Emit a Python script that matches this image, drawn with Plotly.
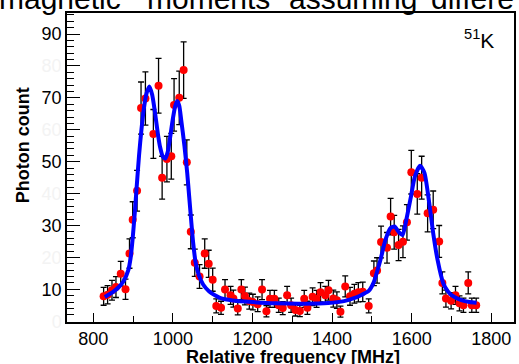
import numpy as np
import plotly.graph_objects as go

# Measured spectrum (relative frequency in MHz, photon counts)
freq = [826, 836, 847, 857, 869, 881, 891, 899, 910, 920, 931, 951, 964, 973, 985,
        996, 1003, 1016, 1027, 1035, 1045, 1055, 1067, 1080, 1090, 1100, 1109, 1121,
        1131, 1145, 1152, 1163, 1172, 1181, 1192, 1201, 1213, 1224, 1235, 1244, 1255,
        1266, 1276, 1287, 1297, 1308, 1319, 1330, 1338, 1351, 1361, 1371, 1383, 1391,
        1403, 1412, 1421, 1433, 1445, 1456, 1466, 1477, 1492, 1505, 1513, 1523, 1538,
        1547, 1556, 1567, 1578, 1588, 1599, 1614, 1625, 1640, 1654, 1669, 1677, 1686,
        1699, 1710, 1720, 1730, 1742, 1751, 1762]
counts = [7.8, 8.3, 9.7, 10.7, 14.9, 10.0, 21.2, 31.8, 40.9, 66.8, 69.8, 58.7, 73.8, 45.0, 50.8,
          51.7, 67.8, 70.0, 78.7, 49.8, 28.0, 18.3, 14.0, 21.2, 18.0, 13.0, 4.8, 4.2,
          9.9, 8.1, 7.1, 4.0, 9.9, 7.9, 6.3, 6.0, 5.3, 9.9, 3.1, 7.0, 7.0,
          5.0, 4.1, 8.1, 5.0, 3.5, 3.2, 7.0, 4.2, 7.7, 7.0, 9.1, 8.1, 9.7,
          7.1, 6.6, 3.0, 10.9, 7.8, 8.6, 9.1, 9.2, 4.8, 15.0, 15.9, 24.8, 23.0,
          32.8, 27.9, 23.9, 24.9, 31.0, 46.7, 39.9, 45.0, 33.8, 34.9, 25.0, 12.0, 7.1,
          6.4, 8.1, 5.6, 5.0, 12.0, 5.0, 5.0]
count_err = np.sqrt(np.array(counts))

# Fitted curve
fit_freq = [829, 850, 865, 876, 888, 894, 899, 904, 909, 915, 921, 928, 934, 941, 948,
            955, 962, 968, 975, 981, 987, 993, 1000, 1006, 1011, 1016, 1021, 1029, 1036,
            1041, 1046, 1051, 1057, 1065, 1076, 1090, 1108, 1120, 1150, 1200, 1260, 1330,
            1390, 1430, 1455, 1475, 1492, 1504, 1513, 1522, 1534, 1547, 1557, 1567, 1577,
            1586, 1598, 1608, 1621, 1632, 1643, 1654, 1665, 1679, 1690, 1700, 1725, 1745, 1763]
fit_counts = [7.6, 9.2, 10.8, 12.5, 16, 20, 26, 33.5, 42, 52, 60, 67.5, 71.5, 73.6, 71,
              65.5, 59, 54.5, 51.5, 51, 53, 57.5, 63.5, 67.5, 69, 67.5, 63, 55, 46.5,
              39, 31.5, 24.5, 18.5, 14.5, 11.5, 9.5, 8, 7.2, 6.5, 6.0, 5.6, 5.5,
              5.7, 6.3, 7.2, 8.3, 9.5, 12, 15.5, 19.5, 25.5, 29.2, 29.7, 28, 27,
              31.5, 39, 45.4, 48.7, 46.5, 38, 27.6, 19.2, 12, 9.5, 8.2, 6.6, 6.0, 5.8]

y_tickvals = [0, 10, 20, 30, 40, 50, 60, 70, 80, 90]
ghost = '#f3f3f3'
y_ticktext = [f'<span style="color:{ghost}">{v}</span>' if v % 20 == 0 else str(v)
              for v in y_tickvals]
x_tickvals = [800, 1000, 1200, 1400, 1600, 1800]

W, H = 519, 364
L, R, T, B = 67, 3, 13, 42
PW, PH = W - L - R, H - T - B


def px(x):
    return (x - L) / PW


def py(y):
    return (H - B - y) / PH


FONT = 'Liberation Sans, Arial, sans-serif'

fig = go.Figure()
fig.add_trace(go.Scatter(
    x=freq, y=counts, mode='markers',
    marker=dict(color='#ff0000', size=8),
    error_y=dict(type='data', array=count_err, color='black', thickness=1.3, width=3),
    showlegend=False, hoverinfo='skip'))
fig.add_trace(go.Scatter(
    x=fit_freq, y=fit_counts, mode='lines',
    line=dict(color='#0000ff', width=4, shape='spline', smoothing=0.6),
    showlegend=False, hoverinfo='skip'))

fig.update_layout(
    width=W, height=H,
    margin=dict(l=L, r=R, t=T, b=B, pad=0),
    paper_bgcolor='white', plot_bgcolor='white',
    font=dict(family=FONT, color='black', size=18),
    xaxis=dict(range=[734, 1857], tickvals=x_tickvals, ticks='inside', ticklen=9,
               tickwidth=1.2, tickcolor='black', showgrid=False, zeroline=False,
               showline=True, linecolor='black', linewidth=1.5, mirror=True,
               tickfont=dict(size=18, family=FONT),
               minor=dict(dtick=100, tick0=800, ticks='inside', ticklen=6,
                          tickcolor='black', tickwidth=1.2)),
    yaxis=dict(range=[-0.25, 96.6], tickvals=y_tickvals, ticktext=y_ticktext,
               ticks='inside', ticklen=13, tickwidth=1.2, tickcolor='black',
               showgrid=False, zeroline=False, showline=True, linecolor='black',
               linewidth=1.5, mirror=True, tickfont=dict(size=18, family=FONT),
               minor=dict(dtick=2, tick0=0, ticks='inside', ticklen=7,
                          tickcolor='black', tickwidth=1.2)),
)

ann = []
# axis titles
ann.append(dict(x=px(294), y=py(357), xref='paper', yref='paper',
                text='<b>Relative frequency [MHz]</b>', showarrow=False,
                xanchor='center', yanchor='middle', font=dict(size=18, family=FONT)))
ann.append(dict(x=px(23), y=py(145), xref='paper', yref='paper',
                text='<b>Photon count</b>', showarrow=False, textangle=-90,
                xanchor='center', yanchor='middle', font=dict(size=18, family=FONT)))
# isotope label
ann.append(dict(x=px(498), y=py(39), xref='paper', yref='paper',
                text='<sup>51</sup>K', showarrow=False, xanchor='right', yanchor='middle',
                font=dict(size=21, family=FONT)))
# cropped text line from the page above the figure
for word, xl in [('magnetic', -3), ('moments', 145), ('assuming', 288), ('differe', 431)]:
    ann.append(dict(x=px(xl), y=py(-1.5), xref='paper', yref='paper', text=word,
                    showarrow=False, xanchor='left', yanchor='middle',
                    font=dict(size=30, family=FONT)))
fig.update_layout(annotations=ann)

fig.write_html('out.html')
